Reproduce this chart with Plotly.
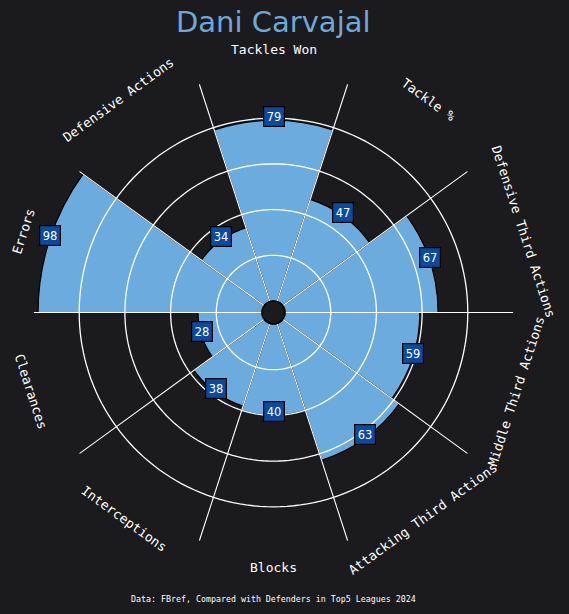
import math
import plotly.graph_objects as go

# ---- data ----
player = "Dani Carvajal"
categories = ["Tackles Won", "Tackle %", "Defensive Third Actions", "Middle Third Actions",
              "Attacking Third Actions", "Blocks", "Interceptions", "Clearances",
              "Errors", "Defensive Actions"]
values = [79, 47, 67, 59, 63, 40, 38, 28, 98, 34]
ring_values = [20, 40, 60, 80]
footer = "Data: FBref, Compared with Defenders in Top5 Leagues 2024"

# ---- styling / geometry ----
W, H = 569, 614
BG = "#1b1b1d"
BAR = "#6cabdd"
BOX = "#0b4a9c"
CX, CY = 273.5, 312.5      # pixel centre of pizza
RAD = 240.0                # pixel radius at value 100
HOLE_PX = 11.5
HOLE = HOLE_PX / RAD
N = len(categories)
STEP = 360 / N

theta = [i * STEP for i in range(N)]
bounds = [i * STEP + STEP / 2 for i in range(N)]

fig = go.Figure()

fig.add_trace(go.Barpolar(
    r=values, theta=theta, width=[STEP] * N,
    marker=dict(color=BAR, line=dict(color="black", width=1.2)),
    hoverinfo="skip",
))

# rings
ring_theta = [k * 2 for k in range(181)]
for rv in ring_values:
    fig.add_trace(go.Scatterpolar(
        r=[rv] * len(ring_theta), theta=ring_theta, mode="lines",
        line=dict(color="white", width=1.3), hoverinfo="skip",
    ))

# spokes
sp_r, sp_t = [], []
for b in bounds:
    sp_r += [0, 100, None]
    sp_t += [b, b, None]
fig.add_trace(go.Scatterpolar(
    r=sp_r, theta=sp_t, mode="lines",
    line=dict(color="white", width=1.1), hoverinfo="skip",
))


def to_paper(r_px, ang_deg, dy=0.0):
    a = math.radians(ang_deg)
    x = CX + r_px * math.cos(a)
    y = CY - r_px * math.sin(a) + dy
    return x / W, 1 - y / H


annotations = []
for i, (cat, v) in enumerate(zip(categories, values)):
    am = 90 - theta[i]
    am_n = ((am + 180) % 360) - 180
    upper = 0 <= am_n <= 180
    # value box
    rp = HOLE_PX + v / 100 * (RAD - HOLE_PX)
    x, y = to_paper(rp, am, dy=-4)
    annotations.append(dict(
        x=x, y=y, xref="paper", yref="paper", text=str(v), showarrow=False,
        font=dict(family="DejaVu Sans", size=11.5, color="white"),
        bgcolor=BOX, bordercolor="black", borderwidth=1.2, borderpad=2.5,
        xanchor="center", yanchor="middle",
    ))
    # category label
    if upper:
        lr = 263
        ta = 90 - am_n
    else:
        lr = 255
        ta = -(am_n + 90)
    x, y = to_paper(lr, am)
    annotations.append(dict(
        x=x, y=y, xref="paper", yref="paper", text=cat, showarrow=False,
        textangle=ta,
        font=dict(family="DejaVu Sans Mono", size=13, color="white"),
        xanchor="center", yanchor="middle",
    ))

annotations.append(dict(
    x=CX / W, y=1 - 22 / H, xref="paper", yref="paper", text=player, showarrow=False,
    font=dict(family="DejaVu Sans", size=29, color="#6ca8dc"),
    xanchor="center", yanchor="middle",
))
annotations.append(dict(
    x=CX / W, y=1 - 599 / H, xref="paper", yref="paper", text=footer, showarrow=False,
    font=dict(family="DejaVu Sans Mono", size=8.3, color="white"),
    xanchor="center", yanchor="middle",
))

fig.update_layout(
    width=W, height=H,
    margin=dict(l=0, r=0, t=0, b=0),
    paper_bgcolor=BG, plot_bgcolor=BG,
    showlegend=False,
    annotations=annotations,
    shapes=[dict(
        type="circle", xref="paper", yref="paper",
        x0=(CX - HOLE_PX) / W, x1=(CX + HOLE_PX) / W,
        y0=1 - (CY + HOLE_PX) / H, y1=1 - (CY - HOLE_PX) / H,
        fillcolor=BG, line=dict(color="black", width=1.5), layer="above",
    )],
    polar=dict(
        domain=dict(x=[(CX - RAD) / W, (CX + RAD) / W],
                    y=[1 - (CY + RAD) / H, 1 - (CY - RAD) / H]),
        bgcolor=BG,
        hole=HOLE,
        radialaxis=dict(range=[0, 100], showticklabels=False, showgrid=False,
                        showline=False, ticks=""),
        angularaxis=dict(rotation=90, direction="clockwise", showticklabels=False,
                         showgrid=False, showline=False, ticks=""),
        barmode="overlay",
    ),
)

fig.write_html(
    "out.html",
    config={"displayModeBar": False},
    post_script="document.body.style.margin='0';document.body.style.background='#1b1b1d';",
)
